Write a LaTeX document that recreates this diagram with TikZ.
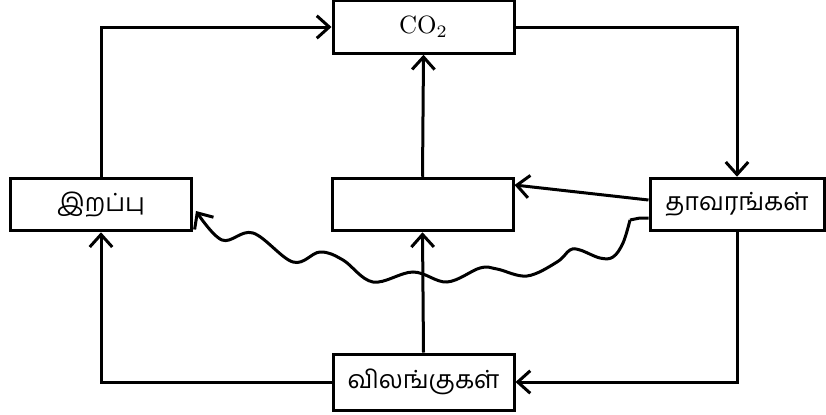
\documentclass[tikz,border=0pt]{standalone}
\usepackage{fontspec}
\newfontfamily\tamil[Script=Tamil]{Hind Madurai}
\usetikzlibrary{arrows.meta}
\begin{document}
\begin{tikzpicture}[x=0.4pt,y=-0.4pt,
  box/.style={draw, line width=1.2pt, minimum width=72.4pt, minimum height=21pt, inner sep=0pt, font=\fontsize{10}{12}\selectfont},
  conn/.style={line width=1.2pt, -{Straight Barb[length=5pt,width=9pt,line width=1.2pt]}}]
\useasboundingbox (0,0) rectangle (826,414);
\node[box] (co2) at (423.5,27) {CO$_2$};
\node[box] (death) at (101,204.5) {\tamil இறப்பு};
\node[box] (mid) at (422.5,204.5) {};
\node[box, minimum width=69.6pt] (plant) at (737,204.5) {\tamil தாவரங்கள்};
\node[box, minimum height=22.4pt] (anim) at (423.5,382) {\tamil விலங்குகள்};
\draw[conn] (death.north) |- (co2.west);
\draw[conn] (co2.east) -| (plant.north);
\draw[conn] (mid.north) -- (co2.south);
\draw[conn] (plant.west |- 0,200) -- (mid.east |- 0,185);
\draw[conn] (plant.south) |- (anim.east);
\draw[conn] (anim.west) -| (death.south);
\draw[conn] (anim.north) -- (mid.south);
\coordinate (ws) at (plant.west |- 0,218);
\coordinate (we) at (death.east |- 0,211);
\draw[conn] (ws) -- (640,218) -- (630,220) plot[smooth, tension=0.6] coordinates {(630,220) (623,243) (613,257) (600,258) (580,250) (570,250) (557,262) (527,276) (497,269) (480,268) (447,282) (413,272) (373,282) (343,260) (320,252) (293,262) (253,233) (222,240) (196,211)};
\end{tikzpicture}
\end{document}
